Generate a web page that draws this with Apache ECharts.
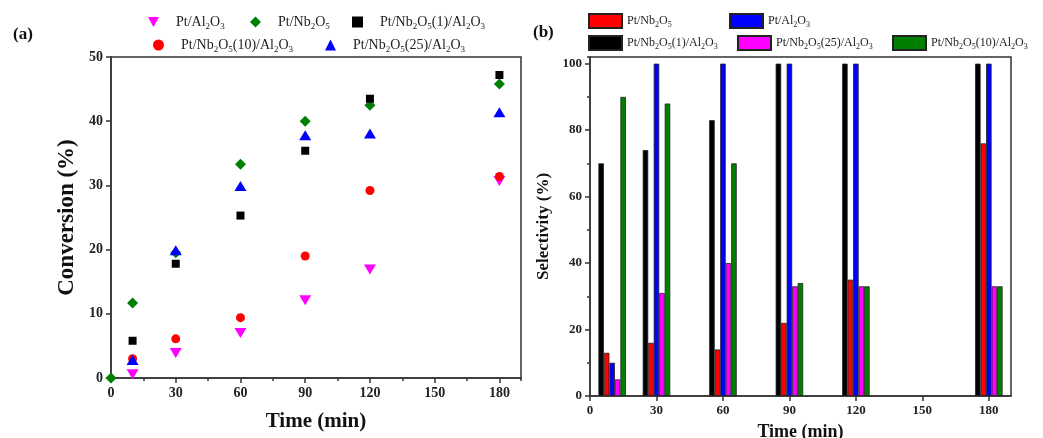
<!DOCTYPE html>
<html>
<head>
<meta charset="utf-8">
<script src="https://cdn.jsdelivr.net/npm/echarts@6/dist/echarts.min.js"></script>
<style>
  html, body { margin: 0; padding: 0; background: #fff; }
  #chart { width: 1043px; height: 438px; }
</style>
</head>
<body>
<div id="chart"></div>
<script>
// (a) conversion vs time
const timeA = [10, 30, 60, 90, 120, 180];
const timeNbA = [0, 10, 30, 60, 90, 120, 180];
const convAl = [0.6, 3.9, 7.0, 12.1, 16.9, 30.7];
const convNb = [0, 11.7, 19.5, 33.3, 40.0, 42.5, 45.8];
const convNb1 = [5.8, 17.8, 25.3, 35.4, 43.5, 47.2];
const convNb10 = [3.0, 6.1, 9.4, 19.0, 29.2, 31.4];
const convNb25 = [2.8, 19.9, 29.9, 37.8, 38.1, 41.4];

// (b) selectivity vs time
const timeB = [10, 30, 60, 90, 120, 180];
const selNb1 = [70, 74, 83, 100, 100, 100];
const selNb = [13, 16, 14, 22, 35, 76];
const selAl = [10, 100, 100, 100, 100, 100];
const selNb25 = [5, 31, 40, 33, 33, 33];
const selNb10 = [90, 88, 70, 34, 33, 33];

const serif = '"Liberation Serif", "DejaVu Serif", serif';
const axisColor = '#333';

function zip(xs, ys) {
  return xs.map((x, i) => [x, ys[i]]);
}

// digits after a letter become subscripts
function chem(name) {
  return '{n|' + name.trim().replace(/([A-Za-z])(\d)/g, '$1}{s|$2}{n|') + '}';
}

function legendA(name, left, top) {
  return {
    data: [name],
    left: left,
    top: top,
    orient: 'horizontal',
    padding: 0,
    itemWidth: 11,
    itemHeight: 11,
    formatter: chem,
    textStyle: {
      padding: [0, 0, 0, 12],
      rich: {
        n: { fontFamily: serif, fontSize: 14, color: '#222', lineHeight: 18, verticalAlign: 'middle' },
        s: { fontFamily: serif, fontSize: 9, color: '#222', lineHeight: 10, verticalAlign: 'bottom' }
      }
    }
  };
}

function legendB(name, left, top) {
  return {
    data: [name],
    left: left,
    top: top,
    orient: 'horizontal',
    padding: 0,
    icon: 'rect',
    itemWidth: 33,
    itemHeight: 14,
    formatter: chem,
    textStyle: {
      rich: {
        n: { fontFamily: serif, fontSize: 12, color: '#222', lineHeight: 16, verticalAlign: 'middle' },
        s: { fontFamily: serif, fontSize: 8, color: '#222', lineHeight: 9, verticalAlign: 'bottom' }
      }
    }
  };
}

const labelStyle = { fontFamily: serif, fontWeight: 'bold', fontSize: 14, color: '#222', margin: 8 };
const lineStyle = { color: axisColor, width: 1.5 };

const downTri = 'path://M0,0 L10,0 L5,9 Z';

function scatter(name, data, symbol, size, color) {
  return {
    type: 'scatter', name: name, xAxisIndex: 0, yAxisIndex: 0,
    data: data, symbol: symbol, symbolSize: size,
    itemStyle: { color: color, opacity: 1 }
  };
}

function bar(name, data, color) {
  return {
    type: 'bar', name: name, xAxisIndex: 2, yAxisIndex: 1,
    data: data, barWidth: 5.5, barGap: '0%',
    itemStyle: { color: color, borderColor: '#222', borderWidth: 0.8 }
  };
}

const chart = echarts.init(document.getElementById('chart'));
chart.setOption({
  backgroundColor: '#fff',
  animation: false,
  title: [
    { text: '(a)', left: 13, top: 26, padding: 0, textStyle: { fontFamily: serif, fontWeight: 'bold', fontSize: 17, color: '#111' } },
    { text: '(b)', left: 533, top: 24, padding: 0, textStyle: { fontFamily: serif, fontWeight: 'bold', fontSize: 17, color: '#111' } }
  ],
  legend: [
    legendA('Pt/Al2O3', 148, 15),
    legendA('Pt/Nb2O5', 250, 15),
    legendA('Pt/Nb2O5(1)/Al2O3', 352, 15),
    legendA('Pt/Nb2O5(10)/Al2O3', 153, 38),
    legendA('Pt/Nb2O5(25)/Al2O3', 325, 38),
    legendB('Pt/Nb2O5 ', 588, 13),
    legendB('Pt/Al2O3 ', 729, 13),
    legendB('Pt/Nb2O5(1)/Al2O3 ', 588, 35),
    legendB('Pt/Nb2O5(25)/Al2O3 ', 737, 35),
    legendB('Pt/Nb2O5(10)/Al2O3 ', 892, 35)
  ],
  grid: [
    { left: 111, top: 57, width: 410, height: 321, show: true, borderColor: axisColor, borderWidth: 1.5, outerBoundsMode: 'none' },
    { left: 590, top: 57, width: 421, height: 339, show: true, borderColor: axisColor, borderWidth: 1.5, outerBoundsMode: 'none' }
  ],
  xAxis: [
    {
      gridIndex: 0, type: 'value', position: 'bottom', min: 0, max: 190, interval: 30,
      axisLine: { show: true, onZero: false, lineStyle: lineStyle },
      axisTick: { show: true, length: 5, lineStyle: lineStyle },
      axisLabel: Object.assign({ showMaxLabel: false }, labelStyle),
      splitLine: { show: false },
      name: 'Time (min)', nameLocation: 'middle', nameGap: 33,
      nameTextStyle: { fontFamily: serif, fontWeight: 'bold', fontSize: 21, color: '#111' }
    },
    {
      gridIndex: 0, type: 'value', position: 'bottom', min: 0, max: 190, interval: 15,
      axisLine: { show: false, onZero: false },
      axisTick: { show: true, length: 3, lineStyle: lineStyle },
      axisLabel: { show: false },
      splitLine: { show: false }
    },
    {
      gridIndex: 1, type: 'value', position: 'bottom', min: 0, max: 190, interval: 30,
      axisLine: { show: true, onZero: false, lineStyle: lineStyle },
      axisTick: { show: true, length: 5, lineStyle: lineStyle },
      axisLabel: Object.assign({ showMaxLabel: false }, labelStyle, { fontSize: 13 }),
      splitLine: { show: false },
      name: 'Time (min)', nameLocation: 'middle', nameGap: 27,
      nameTextStyle: { fontFamily: serif, fontWeight: 'bold', fontSize: 18, color: '#111' }
    }
  ],
  yAxis: [
    {
      gridIndex: 0, type: 'value', position: 'left', min: 0, max: 50, interval: 10,
      axisLine: { show: true, onZero: false, lineStyle: lineStyle },
      axisTick: { show: true, length: 5, lineStyle: lineStyle },
      axisLabel: labelStyle,
      splitLine: { show: false },
      name: 'Conversion (%)', nameLocation: 'middle', nameGap: 32,
      nameTextStyle: { fontFamily: serif, fontWeight: 'bold', fontSize: 23, color: '#111' }
    },
    {
      gridIndex: 1, type: 'value', position: 'left', min: 0, max: 102, interval: 20,
      axisLine: { show: true, onZero: false, lineStyle: lineStyle },
      axisTick: { show: true, length: 5, lineStyle: lineStyle },
      axisLabel: Object.assign({ showMaxLabel: false }, labelStyle, { fontSize: 13 }),
      splitLine: { show: false },
      name: 'Selectivity (%)', nameLocation: 'middle', nameGap: 38,
      nameTextStyle: { fontFamily: serif, fontWeight: 'bold', fontSize: 17, color: '#111' }
    },
    {
      gridIndex: 1, type: 'value', position: 'left', min: 0, max: 102, interval: 10,
      axisLine: { show: false, onZero: false },
      axisTick: { show: true, length: 3, lineStyle: lineStyle },
      axisLabel: { show: false },
      splitLine: { show: false }
    }
  ],
  series: [
    scatter('Pt/Al2O3', zip(timeA, convAl), downTri, [12, 10], '#ff00ff'),
    scatter('Pt/Nb2O5', zip(timeNbA, convNb), 'diamond', 11, '#008000'),
    scatter('Pt/Nb2O5(1)/Al2O3', zip(timeA, convNb1), 'rect', 8, '#000000'),
    scatter('Pt/Nb2O5(10)/Al2O3', zip(timeA, convNb10), 'circle', 9, '#ff0000'),
    scatter('Pt/Nb2O5(25)/Al2O3', zip(timeA, convNb25), 'triangle', [12, 10], '#0000ff'),
    bar('Pt/Nb2O5(1)/Al2O3 ', zip(timeB, selNb1), '#000000'),
    bar('Pt/Nb2O5 ', zip(timeB, selNb), '#ff0000'),
    bar('Pt/Al2O3 ', zip(timeB, selAl), '#0000ff'),
    bar('Pt/Nb2O5(25)/Al2O3 ', zip(timeB, selNb25), '#ff00ff'),
    bar('Pt/Nb2O5(10)/Al2O3 ', zip(timeB, selNb10), '#008000')
  ]
});
</script>
</body>
</html>
